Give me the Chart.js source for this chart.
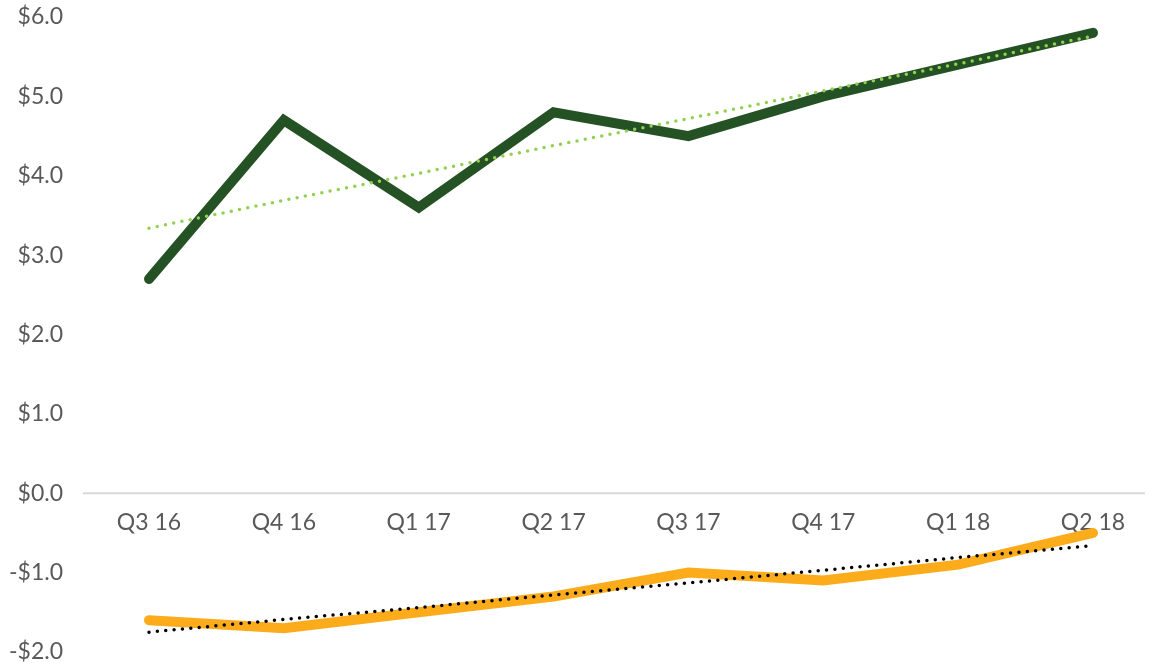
<!DOCTYPE html>
<html>
<head>
<meta charset="utf-8">
<script src="https://cdn.jsdelivr.net/npm/chart.js@4"></script>
<style>
  html, body { margin: 0; padding: 0; background: #fff; }
  #wrap { width: 1149px; height: 663px; }
</style>
</head>
<body>
<div id="wrap"><canvas id="grafico"></canvas></div>
<script>
const trimestres = ['Q3 16', 'Q4 16', 'Q1 17', 'Q2 17', 'Q3 17', 'Q4 17', 'Q1 18', 'Q2 18'];
const serieVerde = [2.7, 4.7, 3.6, 4.8, 4.5, 5.0, 5.4, 5.8];
const serieLaranja = [-1.6, -1.7, -1.5, -1.3, -1.0, -1.1, -0.9, -0.5];
// linhas de tendencia
const tendVerde = [3.34, 3.69, 4.03, 4.38, 4.72, 5.07, 5.41, 5.76];
const tendLaranja = [-1.75, -1.59, -1.44, -1.28, -1.13, -0.97, -0.81, -0.66];
const yMin = -2, yMax = 6, yPasso = 1;

const fonte = { family: 'Lato, "Open Sans", sans-serif', size: 23 };
const cinza = '#595959';

// linha do zero, um pouco mais larga que a area do grafico
const linhaZero = {
    id: 'linhaZero',
    beforeDatasetsDraw(chart) {
        const { ctx, chartArea, scales } = chart;
        const y = scales.y.getPixelForValue(0);
        ctx.save();
        ctx.strokeStyle = '#d9d9d9';
        ctx.lineWidth = 2;
        ctx.beginPath();
        ctx.moveTo(chartArea.left - 66, y);
        ctx.lineTo(chartArea.right + 52, y);
        ctx.stroke();
        ctx.restore();
    }
};

function linha(data, cor, largura, ordem) {
    return {
        data: data,
        borderColor: cor,
        borderWidth: largura,
        borderCapStyle: 'round',
        borderJoinStyle: 'miter',
        pointRadius: 0,
        tension: 0,
        clip: false,
        order: ordem
    };
}

function pontilhada(data, cor) {
    const ds = linha(data, cor, 3.5, 0);
    ds.borderDash = [0, 8.4];
    return ds;
}

new Chart(document.getElementById('grafico'), {
    type: 'line',
    data: {
        labels: trimestres,
        datasets: [
            linha(serieVerde, '#245224', 10, 1),
            linha(serieLaranja, '#fcab1b', 10, 1),
            pontilhada(tendVerde, '#92d050'),
            pontilhada(tendLaranja, '#000000')
        ]
    },
    options: {
        responsive: true,
        maintainAspectRatio: false,
        animation: false,
        layout: { padding: { top: 17, right: 56, bottom: 11, left: 0 } },
        plugins: {
            legend: { display: false },
            tooltip: { enabled: false }
        },
        scales: {
            x: {
                position: { y: 0 },
                offset: false,
                grid: { display: false, drawTicks: false },
                border: { display: false },
                afterFit: (s) => { s.height = 0; },
                ticks: {
                    color: cinza,
                    font: fonte,
                    padding: 16,
                    maxRotation: 0,
                    autoSkip: false
                }
            },
            y: {
                min: yMin,
                max: yMax,
                grid: { display: false, drawTicks: false },
                border: { display: false },
                afterFit: (s) => {
                    s.width = 149;
                    s.paddingTop = 0;
                    s.paddingBottom = 0;
                },
                ticks: {
                    stepSize: yPasso,
                    color: cinza,
                    font: fonte,
                    padding: 86,
                    callback: (v) => (v < 0 ? '-$' : '$') + Math.abs(v).toFixed(1)
                }
            }
        }
    },
    plugins: [linhaZero]
});
</script>
</body>
</html>
